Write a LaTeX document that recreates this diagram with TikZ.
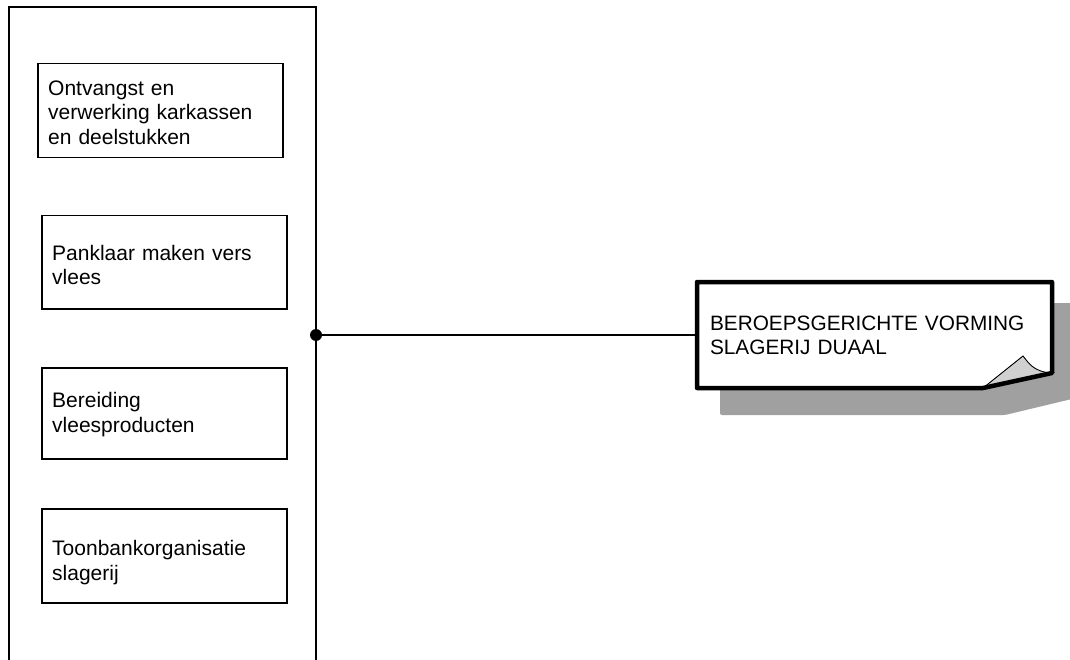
\documentclass[tikz,border=0pt]{standalone}
\usepackage{fontspec}
\setmainfont{Liberation Sans}
\definecolor{shadowgray}{RGB}{160,160,160}
\definecolor{foldgray}{RGB}{208,208,208}
\tikzset{
  unitbox/.style={draw=black, line width=1.5pt, rectangle, anchor=north west,
    minimum width=245pt, minimum height=94pt, inner sep=0pt},
  boxtext/.style={anchor=west, inner xsep=11pt, inner ysep=0pt,
    text width=223pt, align=left, font=\fontsize{21}{24.5}\selectfont},
  callouttext/.style={rectangle, minimum width=355pt, minimum height=106pt,
    inner xsep=13pt, inner ysep=0pt, text width=329pt, align=left,
    font=\fontsize{20.8}{24.5}\selectfont},
  frame/.style={draw=black, line width=1.5pt},
  joinline/.style={draw=black, line width=1.5pt},
  dotnode/.style={circle, fill=black, inner sep=0pt, minimum size=12pt}
}
\begin{document}
\begin{tikzpicture}[x=1pt,y=-1pt]
\useasboundingbox (0,0) rectangle (1070,660);
% outer frame (open at bottom)
\coordinate (fbl) at (9,662);
\coordinate (ftl) at (9,7);
\coordinate (ftr) at (316,7);
\coordinate (fbr) at (316,662);
\draw[frame] (fbl) -- (ftl) -- (ftr) -- (fbr);
% unit boxes
\node[unitbox] (u1) at (37,63) {};
\node[boxtext] (t1) at (37,112.5) {Ontvangst en\\verwerking karkassen\\en deelstukken};
\node[unitbox, minimum height=93pt] (u2) at (41,215) {};
\node[boxtext] (t2) at (41,265) {Panklaar maken vers\\vlees};
\node[unitbox, minimum height=91pt] (u3) at (41,367) {};
\node[boxtext] (t3) at (41,414.5) {Bereiding\\vleesproducten};
\node[unitbox] (u4) at (41,508) {};
\node[boxtext] (t4) at (41,562.5) {Toonbankorganisatie\\slagerij};
% callout shadow
\fill[shadowgray, rounded corners=2pt] (720,303) -- (1076,303) -- (1076,398) -- (1005,415) -- (720,415) -- cycle;
% callout body
\fill[white] (697,282) -- (1052,282) -- (1052,373) -- (983,388) -- (697,388) -- cycle;
\node[callouttext] (cl) at (874.5,335.5) {BEROEPSGERICHTE VORMING\\SLAGERIJ DUAAL};
% folded corner
\filldraw[fill=foldgray, draw=black, line width=0.9pt]
  (983,388) -- (1023,356) .. controls (1028,362) and (1033,372) .. (1052,373) -- cycle;
\draw[line width=4.5pt, line join=round] (697,282) -- (1052,282) -- (1052,373) -- (983,388) -- (697,388) -- cycle;
% connector
\node[dotnode] (dot) at (316,335) {};
\draw[joinline] (dot.center) -- (dot.center -| cl.west);
\end{tikzpicture}
\end{document}
